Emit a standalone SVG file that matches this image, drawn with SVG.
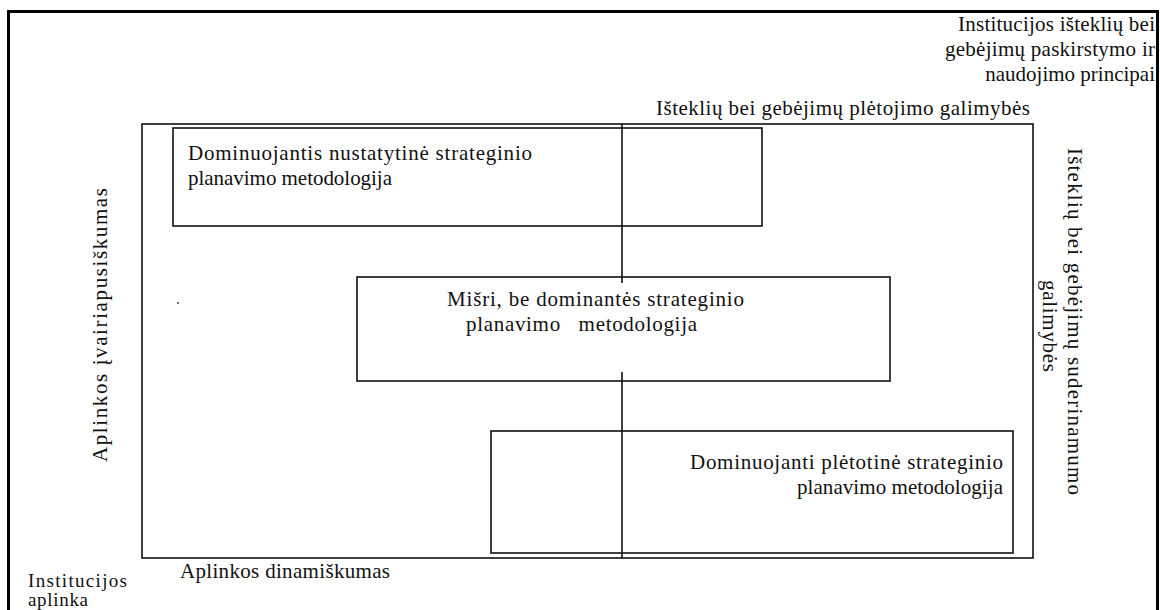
<svg xmlns="http://www.w3.org/2000/svg" width="1160" height="610" viewBox="0 0 1160 610">
  <style>
    .t { font-family: "Liberation Serif", "Times New Roman", serif; font-size: 21px; fill: #111; }
    .s { font-size: 19px; }
    .box { fill: none; stroke: #111; stroke-width: 1.6; }
    .frame { fill: none; stroke: #000; stroke-width: 3; }
    .line { stroke: #111; stroke-width: 1.6; fill: none; }
  </style>
  <rect x="0" y="0" width="1160" height="610" fill="#fff"/>

  <!-- page frame -->
  <path class="frame" d="M8.5,612 V11.5 H1157.5 V612"/>

  <!-- corner labels -->
  <g id="resources-principles">
    <text class="t" x="1155" y="31" text-anchor="end" textLength="197" lengthAdjust="spacing">Institucijos išteklių bei</text>
    <text class="t" x="1155" y="56" text-anchor="end" textLength="210" lengthAdjust="spacing">gebėjimų paskirstymo ir</text>
    <text class="t" x="1155" y="81" text-anchor="end">naudojimo principai</text>
  </g>
  <g id="environment">
    <text class="t s" x="28" y="587" textLength="99" lengthAdjust="spacing">Institucijos</text>
    <text class="t s" x="28" y="606" textLength="60" lengthAdjust="spacing">aplinka</text>
  </g>

  <!-- axis labels -->
  <g id="axis-development">
    <text class="t" x="656" y="115" textLength="374" lengthAdjust="spacing">Išteklių bei gebėjimų plėtojimo galimybės</text>
  </g>
  <g id="axis-compatibility">
    <text class="t" transform="translate(1068,148) rotate(90)" textLength="347" lengthAdjust="spacing">Išteklių bei gebėjimų suderinamumo</text>
    <text class="t" transform="translate(1043,280) rotate(90)" textLength="92" lengthAdjust="spacing">galimybės</text>
  </g>
  <g id="axis-diversity">
    <text class="t" transform="translate(107,462) rotate(-90)" textLength="274" lengthAdjust="spacing">Aplinkos įvairiapusiškumas</text>
  </g>
  <g id="axis-dynamics">
    <text class="t" x="180" y="578" textLength="210" lengthAdjust="spacing">Aplinkos dinamiškumas</text>
  </g>

  <!-- field -->
  <g id="field">
    <rect class="box" x="142" y="124" width="891" height="434"/>
    <rect x="177" y="302" width="2" height="2" fill="#777"/>
  </g>

  <!-- centre axis, interrupted by the middle box -->
  <g id="connectors">
    <line class="line" x1="622" y1="124" x2="622" y2="283"/>
    <line class="line" x1="622" y1="372" x2="622" y2="558"/>
  </g>

  <g id="node-determined">
    <rect class="box" x="173" y="128" width="589" height="98"/>
    <text class="t" x="188" y="160" textLength="344" lengthAdjust="spacing">Dominuojantis nustatytinė strateginio</text>
    <text class="t" x="188" y="185" textLength="204" lengthAdjust="spacing">planavimo metodologija</text>
  </g>

  <g id="node-mixed">
    <rect class="box" x="357" y="277" width="533" height="104"/>
    <text class="t" x="447" y="306" textLength="297" lengthAdjust="spacing">Mišri, be dominantės strateginio</text>
    <text class="t" x="466" y="331" textLength="231" lengthAdjust="spacing" xml:space="preserve">planavimo   metodologija</text>
  </g>

  <g id="node-developmental">
    <rect class="box" x="491" y="431" width="522" height="122"/>
    <text class="t" x="1003" y="469" text-anchor="end" textLength="313" lengthAdjust="spacing">Dominuojanti plėtotinė strateginio</text>
    <text class="t" x="1003" y="494" text-anchor="end" textLength="206" lengthAdjust="spacing">planavimo metodologija</text>
  </g>
</svg>
